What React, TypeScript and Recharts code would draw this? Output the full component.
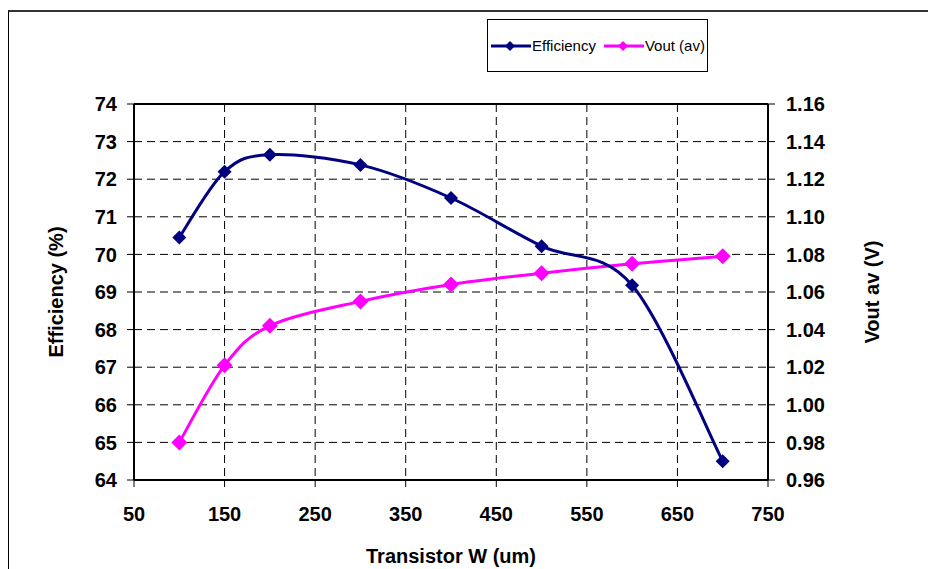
import { Line, LineChart, XAxis, YAxis, CartesianGrid, ReferenceLine, Legend, Label } from "recharts";

// Transistor width sweep (um)
const widths = [100, 150, 200, 300, 400, 500, 600, 700];
const efficiency = [70.45, 72.2, 72.65, 72.38, 71.5, 70.22, 69.18, 64.5];
const voutAv = [0.98, 1.021, 1.042, 1.055, 1.064, 1.07, 1.075, 1.079];

const xTicks = [50, 150, 250, 350, 450, 550, 650, 750];
const effTicks = [64, 65, 66, 67, 68, 69, 70, 71, 72, 73, 74];
const voutTicks = [0.96, 0.98, 1.0, 1.02, 1.04, 1.06, 1.08, 1.1, 1.12, 1.14, 1.16];

const data = widths.map((w, i) => ({ w, eff: efficiency[i], vout: voutAv[i] }));

const NAVY = "#000080";
const MAGENTA = "#FF00FF";
const FONT = "'Liberation Sans', Arial, sans-serif";

// Excel-style smoothed line (uniform Catmull-Rom as cubic beziers)
const excelSmooth = (context: any) => {
  let pts: number[][] = [];
  return {
    areaStart() {},
    areaEnd() {},
    lineStart() {
      pts = [];
    },
    point(x: number, y: number) {
      pts.push([+x, +y]);
    },
    lineEnd() {
      if (!pts.length) return;
      context.moveTo(pts[0][0], pts[0][1]);
      for (let i = 0; i < pts.length - 1; i++) {
        const p0 = pts[i - 1] || pts[i];
        const p1 = pts[i];
        const p2 = pts[i + 1];
        const p3 = pts[i + 2] || pts[i + 1];
        context.bezierCurveTo(
          p1[0] + (p2[0] - p0[0]) / 6,
          p1[1] + (p2[1] - p0[1]) / 6,
          p2[0] - (p3[0] - p1[0]) / 6,
          p2[1] - (p3[1] - p1[1]) / 6,
          p2[0],
          p2[1]
        );
      }
    },
  };
};

const diamond = (color: string, s: number) => (p: any) => {
  const { cx, cy, index } = p;
  if (cx == null || cy == null) return <g key={index} />;
  return (
    <polygon
      key={index}
      points={`${cx},${cy - s} ${cx + s},${cy} ${cx},${cy + s} ${cx - s},${cy}`}
      fill={color}
      stroke="none"
    />
  );
};

const tickStyle = { fill: "#000", fontSize: 20, fontWeight: 700, fontFamily: FONT };

const LegendBox = () => {
  const item = (color: string, label: string, gap: number) => (
    <div style={{ display: "flex", alignItems: "center", whiteSpace: "nowrap", flexShrink: 0 }}>
      <svg width={40} height={12}>
        <line x1={0} y1={6} x2={40} y2={6} stroke={color} strokeWidth={3} />
        <polygon points="19,1 24,6 19,11 14,6" fill={color} />
      </svg>
      <span style={{ marginLeft: 1, marginRight: gap }}>{label}</span>
    </div>
  );
  return (
    <div
      style={{
        boxSizing: "border-box",
        width: 221,
        height: 53,
        border: "1px solid #000",
        display: "flex",
        alignItems: "center",
        paddingLeft: 3,
        fontFamily: FONT,
        fontSize: 15,
        color: "#000",
        overflow: "visible",
      }}
    >
      {item(NAVY, "Efficiency", 8)}
      {item(MAGENTA, "Vout (av)", 0)}
    </div>
  );
};

const rotLabel = (text: string, dx: number) => (props: any) => {
  const vb = props.viewBox;
  const x = vb.x + dx;
  const y = vb.y + vb.height / 2;
  return (
    <text
      x={x}
      y={y}
      transform={`rotate(-90 ${x} ${y})`}
      textAnchor="middle"
      fill="#000"
      fontSize={20}
      fontWeight={700}
      fontFamily={FONT}
    >
      {text}
    </text>
  );
};

export default function App() {
  return (
    <div style={{ position: "relative", width: 928, height: 569, overflow: "hidden", background: "#fff" }}>
      <style>{"body{margin:0;overflow:hidden}"}</style>
      <div
        style={{
          position: "absolute",
          left: 8,
          top: 10,
          width: 940,
          height: 580,
          borderTop: "2px solid #333",
          borderLeft: "1px solid #000",
        }}
      />
      <LineChart width={928} height={569} data={data} margin={{ top: 104, right: 0, bottom: 0, left: 0 }}>
        <CartesianGrid yAxisId="left" stroke="#000" strokeDasharray="8 5" strokeWidth={1} />
        <XAxis
          dataKey="w"
          type="number"
          domain={[50, 750]}
          ticks={xTicks}
          height={89}
          tick={tickStyle}
          tickSize={7}
          tickMargin={20}
          axisLine={{ stroke: "#000", strokeWidth: 2 }}
          tickLine={{ stroke: "#000" }}
        >
          <Label
            value="Transistor W (um)"
            position="insideBottom"
            offset={6}
            style={{ fill: "#000", fontSize: 20, fontWeight: 700, fontFamily: FONT }}
          />
        </XAxis>
        <YAxis
          yAxisId="left"
          width={134}
          domain={[64, 74]}
          ticks={effTicks}
          tick={tickStyle}
          tickSize={7}
          tickMargin={10}
          axisLine={{ stroke: "#000", strokeWidth: 2 }}
          tickLine={{ stroke: "#000" }}
        >
          <Label content={rotLabel("Efficiency (%)", 63)} />
        </YAxis>
        <YAxis
          yAxisId="right"
          orientation="right"
          width={160}
          domain={[0.96, 1.16]}
          ticks={voutTicks}
          tickFormatter={(v: number) => v.toFixed(2)}
          tick={tickStyle}
          tickSize={7}
          tickMargin={11}
          axisLine={{ stroke: "#000", strokeWidth: 2 }}
          tickLine={{ stroke: "#000" }}
        >
          <Label content={rotLabel("Vout av (V)", 111)} />
        </YAxis>
        <ReferenceLine yAxisId="left" y={74} stroke="#000" strokeWidth={2} />
        <Legend
          layout="horizontal"
          verticalAlign="middle"
          align="center"
          wrapperStyle={{ left: 487, top: 19, width: 221, height: 53 }}
          content={() => <LegendBox />}
        />
        <Line
          yAxisId="right"
          dataKey="vout"
          name="Vout (av)"
          type={excelSmooth as any}
          stroke={MAGENTA}
          strokeWidth={3}
          dot={diamond(MAGENTA, 8)}
          activeDot={false}
          isAnimationActive={false}
        />
        <Line
          yAxisId="left"
          dataKey="eff"
          name="Efficiency"
          type={excelSmooth as any}
          stroke={NAVY}
          strokeWidth={3}
          dot={diamond(NAVY, 7)}
          activeDot={false}
          isAnimationActive={false}
        />
      </LineChart>
    </div>
  );
}
